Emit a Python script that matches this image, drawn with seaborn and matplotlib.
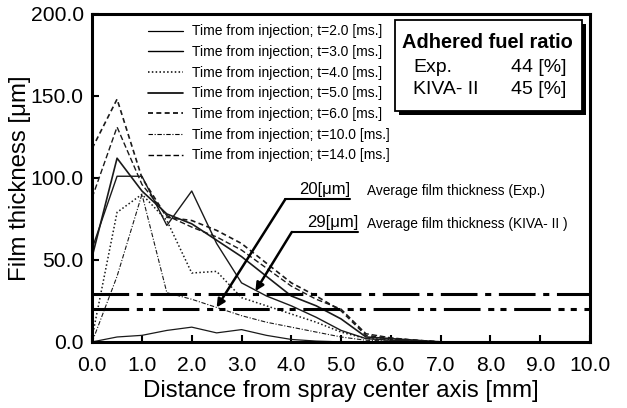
import matplotlib
matplotlib.use("Agg")
import matplotlib.pyplot as plt
import seaborn as sns
import pandas as pd
from matplotlib.patches import Rectangle

# Radial positions [mm]
distance = [0.0, 0.5, 1.0, 1.5, 2.0, 2.5, 3.0, 3.5, 4.0, 4.5, 5.0, 5.5, 6.0, 6.5, 7.0]

# Film thickness [um] for each time after injection
film_t2 = [0, 3, 4, 7, 9, 5.5, 7.5, 4, 1.5, 0.5, 0, 0, 0, 0, 0]
film_t3 = [57, 101, 101, 71, 92, 60, 36, 28, 22, 15, 7, 2, 1, 0.5, 0]
film_t4 = [3, 79, 90, 74, 42, 43, 27, 22, 17, 12, 6, 2, 1.5, 0.5, 0]
film_t5 = [52, 112, 92, 78, 72, 62, 52, 40, 28, 22, 14, 3, 2, 1, 0]
film_t6 = [118, 148, 100, 76, 74, 68, 60, 48, 36, 28, 19, 4, 2, 1, 0]
film_t10 = [0, 40, 90, 30, 26, 21, 16, 12, 9, 6, 3, 1, 0.5, 0, 0]
film_t14 = [88, 131, 96, 77, 70, 64, 56, 45, 34, 26, 20, 5, 2.5, 1, 0]

times = ["2.0", "3.0", "4.0", "5.0", "6.0", "10.0", "14.0"]
series = [film_t2, film_t3, film_t4, film_t5, film_t6, film_t10, film_t14]

# Average film thickness [um]
avg_exp = 20
avg_kiva = 29

# Adhered fuel ratio [%]
ratio_exp = 44
ratio_kiva = 45

x_ticks = [0, 1, 2, 3, 4, 5, 6, 7, 8, 9, 10]
y_ticks = [0, 50, 100, 150, 200]

styles = [
    dict(linestyle="-", linewidth=0.9),
    dict(linestyle="-", linewidth=1.0),
    dict(linestyle=(0, (1, 1.5)), linewidth=1.1),
    dict(linestyle="-", linewidth=1.2),
    dict(linestyle=(0, (3, 2)), linewidth=1.2),
    dict(linestyle=(0, (4, 1.5, 1, 1.5)), linewidth=0.8),
    dict(linestyle=(0, (4, 2)), linewidth=1.0),
]

sns.set_style("ticks")
plt.rcParams["font.family"] = ["Liberation Sans", "DejaVu Sans"]
plt.rcParams.update({"text.color": "black", "axes.labelcolor": "black",
                     "xtick.color": "black", "ytick.color": "black"})

fig = plt.figure(figsize=(6.27, 4.08), dpi=100)
ax = fig.add_axes([0.147, 0.162, 0.794, 0.804])

rows = []
for t, vals in zip(times, series):
    for d, v in zip(distance, vals):
        rows.append({"distance": d, "film": v, "time": t})
df = pd.DataFrame(rows)

for t, st in zip(times, styles):
    sub = df[df["time"] == t]
    sns.lineplot(data=sub, x="distance", y="film", ax=ax, color="#1a1a1a",
                 label=f"Time from injection; t={t} [ms.]", **st)

# Average thickness reference lines
ax.axhline(avg_kiva, color="black", linewidth=2.2, linestyle=(0, (12, 2.5, 2, 2.5)))
ax.axhline(avg_exp, color="black", linewidth=2.2,
           linestyle=(0, (12, 2.5, 2, 2, 2, 2.5)))

# Leader lines with arrows for the averages
desc_x = 5.52
lead_exp = dict(tip=(2.5, 21.0), corner=(3.88, 87.0), end=5.18)
lead_kiva = dict(tip=(3.28, 31.0), corner=(4.01, 67.0), end=5.34)
for lead, val, desc in [(lead_exp, avg_exp, "Average film thickness (Exp.)"),
                        (lead_kiva, avg_kiva, "Average film thickness (KIVA- II )")]:
    cx, cy = lead["corner"]
    ax.plot([cx, lead["end"]], [cy, cy], color="black", linewidth=1.5)
    ax.annotate("", xy=lead["tip"], xytext=(cx, cy),
                arrowprops=dict(arrowstyle="-|>", color="black", lw=1.8,
                                mutation_scale=12, shrinkA=0, shrinkB=0))
    ax.text(lead["end"], cy + 1.2, f"{val}[\u03bcm]", ha="right", va="bottom",
            fontsize=12)
    ax.text(desc_x, cy + 5, desc, ha="left", va="center", fontsize=9.9)

ax.set_xlim(0, 10)
ax.set_ylim(0, 200)
ax.set_xticks(x_ticks)
ax.set_yticks(y_ticks)
ax.set_xticklabels([f"{v:.1f}" for v in x_ticks], fontsize=15.2)
ax.set_yticklabels([f"{v:.1f}" for v in y_ticks], fontsize=15.2)
ax.tick_params(direction="in", length=5, width=1.5)
ax.tick_params(axis="x", pad=10)
ax.tick_params(axis="y", pad=6)
for sp in ax.spines.values():
    sp.set_linewidth(2.2)
    sp.set_color("black")
    sp.set_visible(True)

ax.set_xlabel("Distance from spray center axis [mm]", fontsize=17.3, labelpad=4)
ax.set_ylabel("Film thickness [\u03bcm]", fontsize=17.3, labelpad=0)

leg = ax.legend(loc="upper left", bbox_to_anchor=(0.112, 0.968), frameon=False,
                fontsize=10, handlelength=2.5, handletextpad=0.65,
                labelspacing=0.48, borderpad=0, borderaxespad=0)
for h in leg.get_lines():
    h.set_color("black")

# Adhered fuel ratio box with drop shadow
bx0, by0, bx1, by1 = 0.608, 0.704, 0.984, 0.982
ax.add_patch(Rectangle((bx0 + 0.008, by0 - 0.012), bx1 - bx0, by1 - by0,
                       transform=ax.transAxes, facecolor="black", edgecolor="none",
                       zorder=5))
ax.add_patch(Rectangle((bx0, by0), bx1 - bx0, by1 - by0, transform=ax.transAxes,
                       facecolor="white", edgecolor="black", linewidth=1.3, zorder=6))
ax.text(0.793, 0.912, "Adhered fuel ratio", transform=ax.transAxes, ha="center",
        va="center", fontsize=14.4, fontweight="bold", zorder=7)
ax.text(0.645, 0.835, "Exp.", transform=ax.transAxes, ha="left", va="center",
        fontsize=14, zorder=7)
ax.text(0.952, 0.835, f"{ratio_exp} [%]", transform=ax.transAxes, ha="right",
        va="center", fontsize=14, zorder=7)
ax.text(0.645, 0.768, "KIVA- II", transform=ax.transAxes, ha="left", va="center",
        fontsize=14, zorder=7)
ax.text(0.952, 0.768, f"{ratio_kiva} [%]", transform=ax.transAxes, ha="right",
        va="center", fontsize=14, zorder=7)

fig.savefig("out.png", dpi=100, facecolor="white")
